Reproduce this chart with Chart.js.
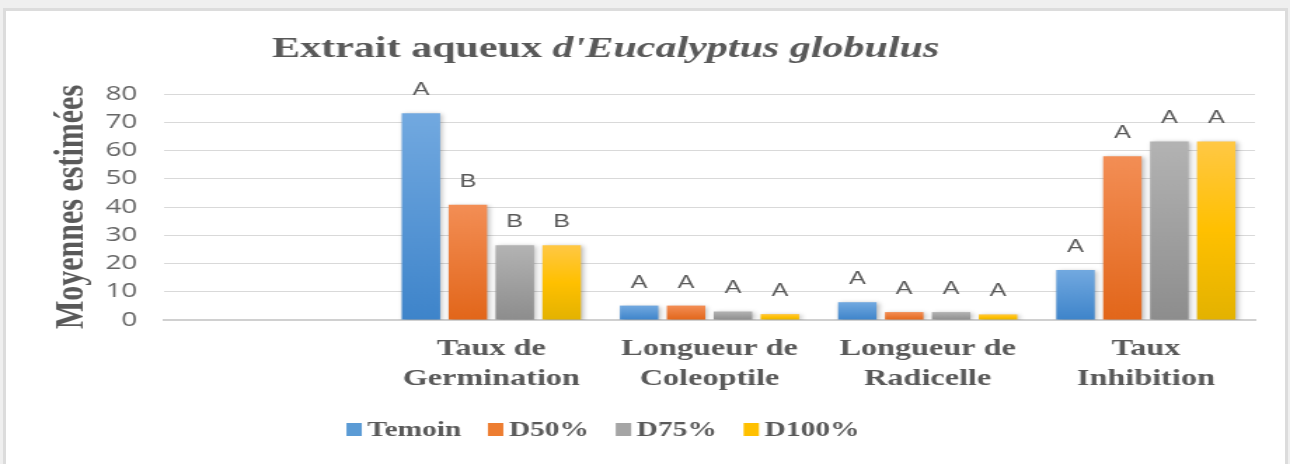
<!DOCTYPE html>
<html>
<head>
<meta charset="utf-8">
<script src="https://cdn.jsdelivr.net/npm/chart.js@4.4.1/dist/chart.umd.min.js"></script>
<style>
  html, body { margin: 0; padding: 0; background: #efefef; width: 1290px; height: 464px; overflow: hidden; }
  #frame { position: absolute; left: 3px; top: 8px; width: 1285px; height: 470px; background: #fff;
           border: 3px solid #dcdcdc; border-bottom: none; box-sizing: border-box; }
  #chart { position: absolute; left: 0; top: 0; }
</style>
</head>
<body>
<div id="frame"></div>
<!-- drawn at 920 wide and stretched to 1290, like the reference picture -->
<canvas id="chart" width="920" height="464" style="width:1290px;height:464px"></canvas>
<script>
// categories (first one is empty in the original)
const categories = ['', ['Taux de', 'Germination'], ['Longueur de', 'Coleoptile'], ['Longueur de', 'Radicelle'], ['Taux', 'Inhibition']];
const seriesNames = ['Temoin', 'D50%', 'D75%', 'D100%'];

// estimated means
const temoin = [null, 73.2, 5.1, 6.3, 17.7];
const d50    = [null, 40.8, 5.1, 2.8, 58.0];
const d75    = [null, 26.5, 3.0, 2.8, 63.2];
const d100   = [null, 26.5, 2.1, 2.0, 63.2];

// letters of the mean comparison
const lettersTemoin = ['', 'A', 'A', 'A', 'A'];
const lettersD50    = ['', 'B', 'A', 'A', 'A'];
const lettersD75    = ['', 'B', 'A', 'A', 'A'];
const lettersD100   = ['', 'B', 'A', 'A', 'A'];

const yMin = 0, yMax = 80, yStep = 10;

const letters = [lettersTemoin, lettersD50, lettersD75, lettersD100];
const gray = '#595959';

// gradient per bar, light at the top
function barGradient(stops, flat) {
    return function (c) {
        const chart = c.chart;
        if (!chart.chartArea || c.raw == null) return flat;
        const y = chart.scales.y;
        const g = chart.ctx.createLinearGradient(0, y.getPixelForValue(c.raw), 0, y.getPixelForValue(0));
        stops.forEach((s, i) => g.addColorStop(i / (stops.length - 1), s));
        return g;
    };
}

const palette = [
    { stops: ['#72a9e0', '#3e84ca'], flat: '#5b9bd5' },
    { stops: ['#f38e55', '#e2661a'], flat: '#ed7d31' },
    { stops: ['#b3b3b3', '#8d8d8d'], flat: '#a5a5a5' },
    { stops: ['#ffc845', '#ffc000', '#e3b200'], flat: '#ffc000' }
];

const datasets = [temoin, d50, d75, d100].map((vals, i) => ({
    label: seriesNames[i],
    data: vals,
    backgroundColor: barGradient(palette[i].stops, palette[i].flat),
    borderWidth: 0,
    barPercentage: 0.82,
    categoryPercentage: 0.86
}));

// shadows, letters above bars, title and legend
const decorations = {
    id: 'decorations',
    beforeDatasetsDraw(chart) {
        const ctx = chart.ctx;
        ctx.save();
        ctx.shadowColor = 'rgba(0,0,0,0.28)';
        ctx.shadowBlur = 4;
        ctx.shadowOffsetX = 1.5;
        ctx.shadowOffsetY = 1;
    },
    afterDatasetsDraw(chart) {
        const ctx = chart.ctx;
        ctx.restore();
        ctx.save();
        ctx.font = '18px "Liberation Sans", Arial, sans-serif';
        ctx.fillStyle = gray;
        ctx.textAlign = 'center';
        ctx.textBaseline = 'middle';
        chart.data.datasets.forEach((ds, i) => {
            chart.getDatasetMeta(i).data.forEach((bar, j) => {
                const t = letters[i][j];
                if (!t || ds.data[j] == null) return;
                ctx.fillText(t, bar.x, bar.y - 23);
            });
        });
        ctx.restore();
    },
    afterDraw(chart) {
        const ctx = chart.ctx;
        ctx.save();
        ctx.fillStyle = gray;
        ctx.textBaseline = 'alphabetic';
        // title: plain part + italic part
        const f1 = 'bold 30px "Liberation Serif", "Times New Roman", serif';
        const f2 = 'italic bold 30px "Liberation Serif", "Times New Roman", serif';
        const p1 = 'Extrait aqueux ', p2 = "d'Eucalyptus globulus";
        ctx.font = f1; const w1 = ctx.measureText(p1).width;
        ctx.font = f2; const w2 = ctx.measureText(p2).width;
        let x = 432 - (w1 + w2) / 2;
        ctx.textAlign = 'left';
        ctx.font = f1; ctx.fillText(p1, x, 57);
        ctx.font = f2; ctx.fillText(p2, x + w1, 57);

        // legend
        ctx.font = 'bold 21px "Liberation Serif", "Times New Roman", serif';
        ctx.textBaseline = 'middle';
        const box = 11, gap = 4, spacing = 19;
        const widths = chart.data.datasets.map(ds => box + gap + ctx.measureText(ds.label).width);
        const total = widths.reduce((a, b) => a + b, 0) + spacing * (widths.length - 1);
        x = 430 - total / 2;
        const ly = 430;
        chart.data.datasets.forEach((ds, i) => {
            ctx.fillStyle = palette[i].flat;
            ctx.fillRect(x, ly - 7, box, 13);
            ctx.fillStyle = gray;
            ctx.fillText(ds.label, x + box + gap, ly + 1);
            x += widths[i] + spacing;
        });
        ctx.restore();
    }
};

new Chart(document.getElementById('chart'), {
    type: 'bar',
    data: { labels: categories, datasets },
    plugins: [decorations],
    options: {
        responsive: false,
        animation: false,
        layout: { padding: { left: 33, right: 25, top: 94, bottom: 70 } },
        plugins: {
            legend: { display: false },
            title: { display: false },
            tooltip: { enabled: false }
        },
        scales: {
            x: {
                grid: { display: false, drawTicks: false },
                border: { display: true, color: '#d0d0d0', width: 2 },
                ticks: {
                    color: gray,
                    padding: 14,
                    maxRotation: 0,
                    autoSkip: false,
                    font: { family: '"Liberation Serif", "Times New Roman", serif', size: 23, weight: 'bold', lineHeight: 1.3 }
                },
                afterFit: s => { s.height = 74; }
            },
            y: {
                min: yMin, max: yMax,
                grid: { color: '#d9d9d9', lineWidth: 1, drawTicks: false },
                border: { display: false },
                ticks: {
                    stepSize: yStep,
                    color: '#666666',
                    padding: 19,
                    font: { family: '"Open Sans", "Liberation Sans", sans-serif', size: 20 }
                },
                title: {
                    display: true,
                    text: 'Moyennes estimées',
                    color: gray,
                    padding: { top: 0, bottom: 0 },
                    font: { family: '"Liberation Serif", "Times New Roman", serif', size: 30, weight: 'bold', lineHeight: 1.2 }
                },
                afterFit: s => { s.width = 84; }
            }
        }
    }
});
</script>
</body>
</html>
